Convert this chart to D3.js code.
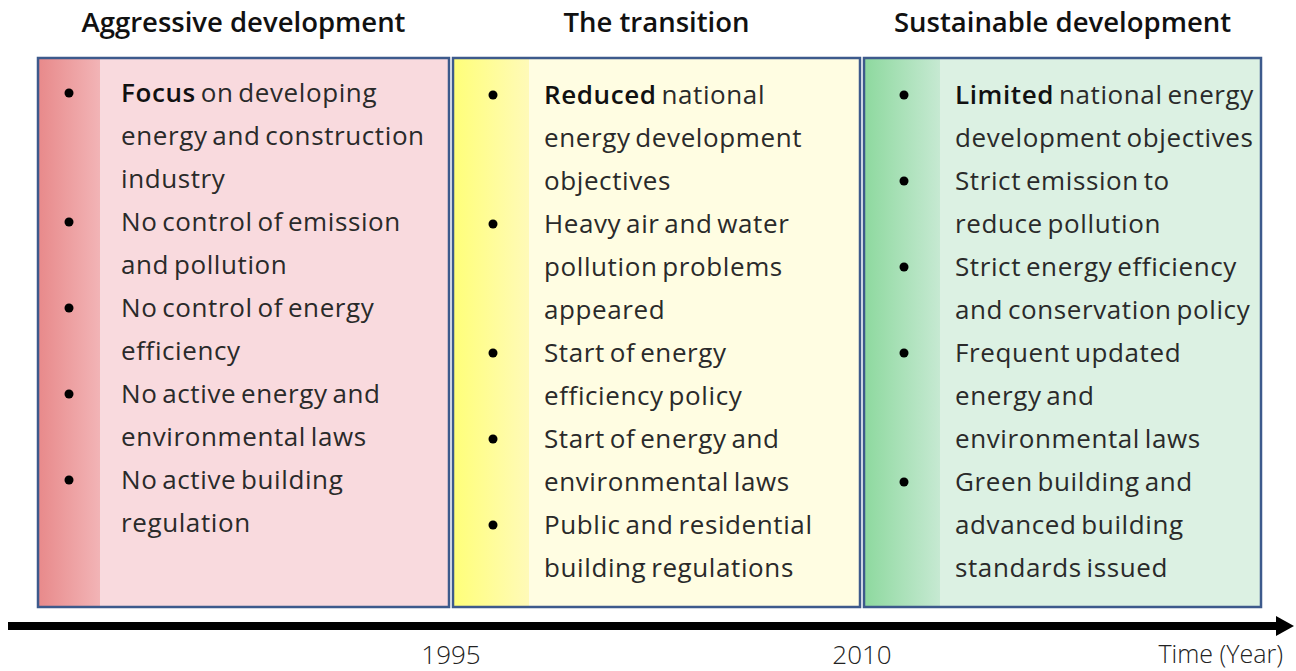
<!DOCTYPE html>
<html>
<head>
<meta charset="utf-8">
<script src="https://cdn.jsdelivr.net/npm/d3@7"></script>
<style>
  body { margin: 0; background: #fff; }
  svg { display: block; }
</style>
</head>
<body>
<svg></svg>
<script>
'use strict';

const svgWidth = 1296;
const svgHeight = 671;

// phases of the timeline (start / end year of each box)
const phases = ['Aggressive development', 'The transition', 'Sustainable development'];
const phaseStart = [1980, 1995, 2010];
const phaseEnd = [1995, 2010, 2025];
const boundaryYears = [1995, 2010];
const axisLabel = 'Time (Year)';

// each bullet: [bold lead, rest of first line], then further lines
const bullets1 = [
  [['Focus', ' on developing'], 'energy and construction', 'industry'],
  [['', 'No control of emission'], 'and pollution'],
  [['', 'No control of energy'], 'efficiency'],
  [['', 'No active energy and'], 'environmental laws'],
  [['', 'No active building'], 'regulation']
];
const bullets2 = [
  [['Reduced', ' national'], 'energy development', 'objectives'],
  [['', 'Heavy air and water'], 'pollution problems', 'appeared'],
  [['', 'Start of energy'], 'efficiency policy'],
  [['', 'Start of energy and'], 'environmental laws'],
  [['', 'Public and residential'], 'building regulations']
];
const bullets3 = [
  [['Limited', ' national energy'], 'development objectives'],
  [['', 'Strict emission to'], 'reduce pollution'],
  [['', 'Strict energy efficiency'], 'and conservation policy'],
  [['', 'Frequent updated'], 'energy and', 'environmental laws'],
  [['', 'Green building and'], 'advanced building', 'standards issued']
];
const bulletSets = [bullets1, bullets2, bullets3];

const palette = [
  { strip: ['#e88a8b', '#f2b4b6'], body: '#f9dade' },
  { strip: ['#ffff7a', '#fffab8'], body: '#fffde2' },
  { strip: ['#8ed99f', '#c6e9d2'], body: '#dcf1e3' }
];

const svg = d3.select('svg')
  .attr('width', svgWidth)
  .attr('height', svgHeight)
  .style('font-family', '"Open Sans", sans-serif');

const boxTop = 58;
const boxBottom = 607;
const gap = 2;

// time scale (boxes are not quite equal in width)
const x = d3.scaleLinear()
  .domain([1980, 1995, 2010, 2025])
  .range([38, 451, 862, 1261]);

const defs = svg.append('defs');
palette.forEach((p, i) => {
  const g = defs.append('linearGradient')
    .attr('id', 'strip' + i);
  g.append('stop').attr('offset', '0%').attr('stop-color', p.strip[0]);
  g.append('stop').attr('offset', '100%').attr('stop-color', p.strip[1]);
});

const boxLeft = i => x(phaseStart[i]) + (i === 0 ? 0 : gap);
const boxRight = i => x(phaseEnd[i]) - (i === phases.length - 1 ? 0 : gap);

const box = svg.selectAll('g.phase')
  .data(phases)
  .join('g')
  .attr('class', 'phase')
  .attr('transform', (d, i) => `translate(${boxLeft(i)}, 0)`);

box.append('rect')
  .attr('x', 0)
  .attr('y', boxTop)
  .attr('width', (d, i) => boxRight(i) - boxLeft(i))
  .attr('height', boxBottom - boxTop)
  .attr('fill', (d, i) => palette[i].body);

box.append('rect')
  .attr('x', 1)
  .attr('y', boxTop)
  .attr('width', (d, i) => i === 0 ? 61 : 75)
  .attr('height', boxBottom - boxTop)
  .attr('fill', (d, i) => `url(#strip${i})`);

box.append('rect')
  .attr('x', 0)
  .attr('y', boxTop)
  .attr('width', (d, i) => boxRight(i) - boxLeft(i))
  .attr('height', boxBottom - boxTop)
  .attr('fill', 'none')
  .attr('stroke', '#3d5a8c')
  .attr('stroke-width', 2.5);

// titles
box.append('text')
  .attr('x', (d, i) => (boxRight(i) - boxLeft(i)) / 2)
  .attr('y', 32)
  .attr('text-anchor', 'middle')
  .attr('font-size', 27.5)
  .attr('font-weight', 600)
  .attr('fill', '#111')
  .text(d => d);

// bullet lists
const lineH = 43;
box.each(function (d, i) {
  const g = d3.select(this);
  let row = 0;
  const firstY = i === 0 ? 102 : 104;
  bulletSets[i].forEach(item => {
    const y0 = firstY + row * lineH;
    g.append('circle')
      .attr('cx', i === 0 ? 31 : 40)
      .attr('cy', y0 - 9)
      .attr('r', 4.5)
      .attr('fill', '#000');
    item.forEach((line, k) => {
      const t = g.append('text')
        .attr('x', i === 0 ? 83 : 91)
        .attr('y', firstY + row * lineH)
        .attr('font-size', 26)
        .attr('letter-spacing', 0.6)
        .attr('word-spacing', -2.5)
        .attr('fill', '#2a2a2a');
      if (k === 0) {
        t.append('tspan').attr('font-weight', 600).attr('fill', '#111').text(line[0]);
        t.append('tspan').text(line[1]);
      } else {
        t.text(line);
      }
      row++;
    });
  });
});

// timeline arrow
const axisY = 626;
svg.append('line')
  .attr('x1', 8)
  .attr('x2', 1278)
  .attr('y1', axisY)
  .attr('y2', axisY)
  .attr('stroke', '#000')
  .attr('stroke-width', 8);

svg.append('path')
  .attr('d', d3.line()([[1276, axisY - 10], [1294, axisY], [1276, axisY + 10]]))
  .attr('fill', '#000');

svg.selectAll('text.year')
  .data(boundaryYears)
  .join('text')
  .attr('class', 'year')
  .attr('x', d => x(d))
  .attr('y', 664)
  .attr('text-anchor', 'middle')
  .attr('font-size', 26)
  .attr('font-weight', 300)
  .attr('fill', '#222')
  .text(d => d);

svg.append('text')
  .attr('x', 1283)
  .attr('y', 663)
  .attr('text-anchor', 'end')
  .attr('font-size', 25)
  .attr('font-weight', 300)
  .attr('fill', '#222')
  .text(axisLabel);
</script>
</body>
</html>
